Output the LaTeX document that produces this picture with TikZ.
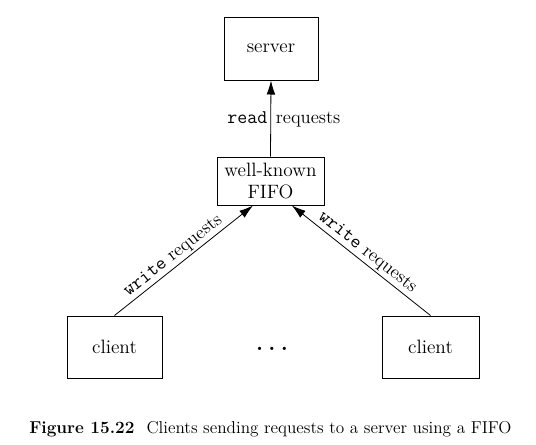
\documentclass[tikz,border=0pt]{standalone}
\usepackage{fontspec}
\usetikzlibrary{arrows.meta,calc}
\newcommand{\mytt}[1]{{\fontsize{14.5}{16}\selectfont\texttt{#1}}}
\tikzset{
  box/.style={draw=black, line width=0.75pt, inner sep=0pt, align=center,
    font=\fontsize{14.5}{17}\selectfont},
  conn/.style={draw=black, line width=0.6pt, -{Latex[length=10.5pt,width=6.5pt]}},
  lbl/.style={font=\fontsize{14}{16}\selectfont, inner sep=1.5pt},
}
\begin{document}
\begin{tikzpicture}[x=0.75pt,y=-0.75pt]
\useasboundingbox (0,0) rectangle (536,444);
\node[box, minimum width=70.5pt, minimum height=47.25pt] (server) at (271,48.5) {server};
\node[box, minimum width=80.25pt, minimum height=36pt] (fifo) at (270.5,181) {well-known\\[-1.2pt]FIFO};
\node[box, minimum width=71.25pt, minimum height=46.5pt] (clientL) at (114.5,347) {client};
\node[box, minimum width=72.75pt, minimum height=46.5pt] (clientR) at (430.5,347) {client};
\node[lbl, anchor=base, font=\fontsize{17}{18}\selectfont\bfseries] (dots) at (272,350) {.\hspace{4pt}.\hspace{4pt}.};
\coordinate (fifoL) at ($(fifo.south)+(-13.1pt,0)$);
\coordinate (fifoR) at ($(fifo.south)+(16pt,0)$);
\draw[conn] (fifo.north) -- (server.south);
\node[lbl, anchor=base east, inner sep=0pt] (readlbl) at (267.5,123) {\mytt{read}};
\node[lbl, anchor=base west, inner sep=0pt] (reqlbl) at (275.5,123) {requests};
\draw[conn] (clientL.north) -- node[lbl, sloped, above, pos=0.47] (wl) {\mytt{write} requests} (fifoL);
\draw[conn] (clientR.north) -- node[lbl, sloped, above, pos=0.5] (wr) {\mytt{write} requests} (fifoR);
\node[anchor=base west, inner sep=0pt, font=\fontsize{12.9}{15}\selectfont] (cap) at (29,433)
  {\textbf{Figure 15.22}\hspace{9pt}Clients sending requests to a server using a FIFO};
\end{tikzpicture}
\end{document}
